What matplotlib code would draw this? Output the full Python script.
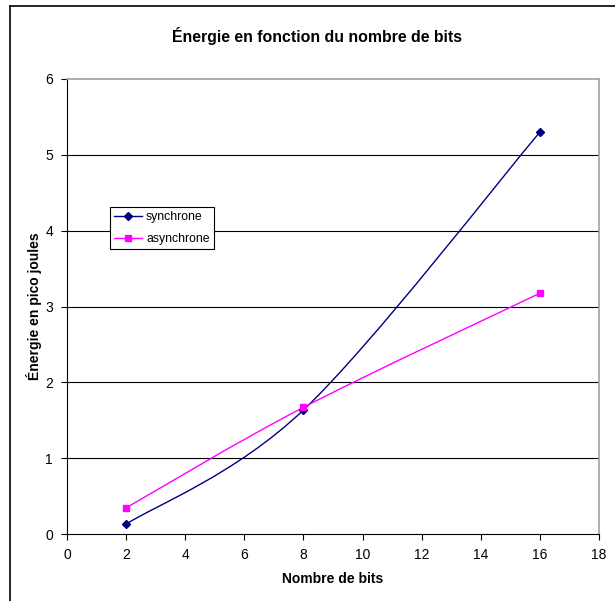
import matplotlib
matplotlib.use("Agg")
import matplotlib.pyplot as plt
from matplotlib.path import Path
from matplotlib.patches import PathPatch
from matplotlib.lines import Line2D
import numpy as np

plt.rcParams['font.family'] = ['Liberation Sans', 'DejaVu Sans']

bits = [2, 8, 16]
synchrone = [0.13, 1.635, 5.30]
asynchrone = [0.345, 1.67, 3.175]
xticks = [0, 2, 4, 6, 8, 10, 12, 14, 16, 18]
yticks = [0, 1, 2, 3, 4, 5, 6]

NAVY = '#000080'
MAGENTA = '#FF00FF'


def smooth_path(xs, ys):
    pts = np.column_stack([xs, ys]).astype(float)
    n = len(pts)
    verts = [pts[0]]
    codes = [Path.MOVETO]
    for i in range(n - 1):
        p0 = pts[i - 1] if i > 0 else pts[i]
        p1 = pts[i]
        p2 = pts[i + 1]
        p3 = pts[i + 2] if i + 2 < n else pts[i + 1]
        c1 = p1 + (p2 - p0) / 6.0
        c2 = p2 - (p3 - p1) / 6.0
        verts += [c1, c2, p2]
        codes += [Path.CURVE4] * 3
    return Path(verts, codes)


fig = plt.figure(figsize=(6.15, 6.01), dpi=100)
ax = fig.add_axes([67/615, 1-534/601, (599-67)/615, (534-79)/601])

for ys, col, mk, ms, lab in [(synchrone, NAVY, 'D', 4, 'synchrone'),
                              (asynchrone, MAGENTA, 's', 5, 'asynchrone')]:
    patch = PathPatch(smooth_path(bits, ys), facecolor='none', edgecolor=col, lw=1.0, zorder=3)
    ax.add_patch(patch)
    ax.plot(bits, ys, linestyle='none', marker=mk, ms=ms, color=col, zorder=4)

handles = [Line2D([], [], color=NAVY, lw=1.0, marker='D', ms=4),
           Line2D([], [], color=MAGENTA, lw=1.0, marker='s', ms=5)]
leg = ax.legend(handles, ['synchrone', 'asynchrone'], loc='upper left',
                bbox_to_anchor=((110-67)/532, (534-207)/455), fontsize=8.8,
                frameon=True, fancybox=False, framealpha=1, edgecolor='black',
                borderpad=0.35, handlelength=2.3, labelspacing=0.8, handletextpad=0.3,
                borderaxespad=0)
leg.get_frame().set_linewidth(0.8)

ax.set_xlim(0, 18)
ax.set_ylim(0, 6)
ax.set_xticks(xticks)
ax.set_yticks(yticks)
ax.tick_params(direction='out', length=4, width=0.8, labelsize=10, colors='black', pad=6)
for y in yticks[1:-1]:
    ax.axhline(y, color='black', lw=0.8, zorder=1)
ax.spines['top'].set_color('#a0a0a0')
ax.spines['right'].set_color('#a0a0a0')
ax.spines['top'].set_linewidth(1.2)
ax.spines['right'].set_linewidth(1.2)
ax.spines['left'].set_color('black')
ax.spines['bottom'].set_color('black')

ax.set_xlabel('Nombre de bits', fontsize=10, fontweight='bold', labelpad=7)
ax.set_ylabel('Énergie en pico joules', fontsize=10, fontweight='bold', labelpad=2)
fig.text(317/615, 1-36/601, 'Énergie en fonction du nombre de bits', ha='center', va='center',
         fontsize=11.4, fontweight='bold')

fig.add_artist(Line2D([10/615, 10/615], [0, 1-6/601], color='black', lw=1.2, transform=fig.transFigure))
fig.add_artist(Line2D([10/615, 1], [1-6/601, 1-6/601], color='black', lw=1.2, transform=fig.transFigure))

fig.savefig('out.png', dpi=100)
